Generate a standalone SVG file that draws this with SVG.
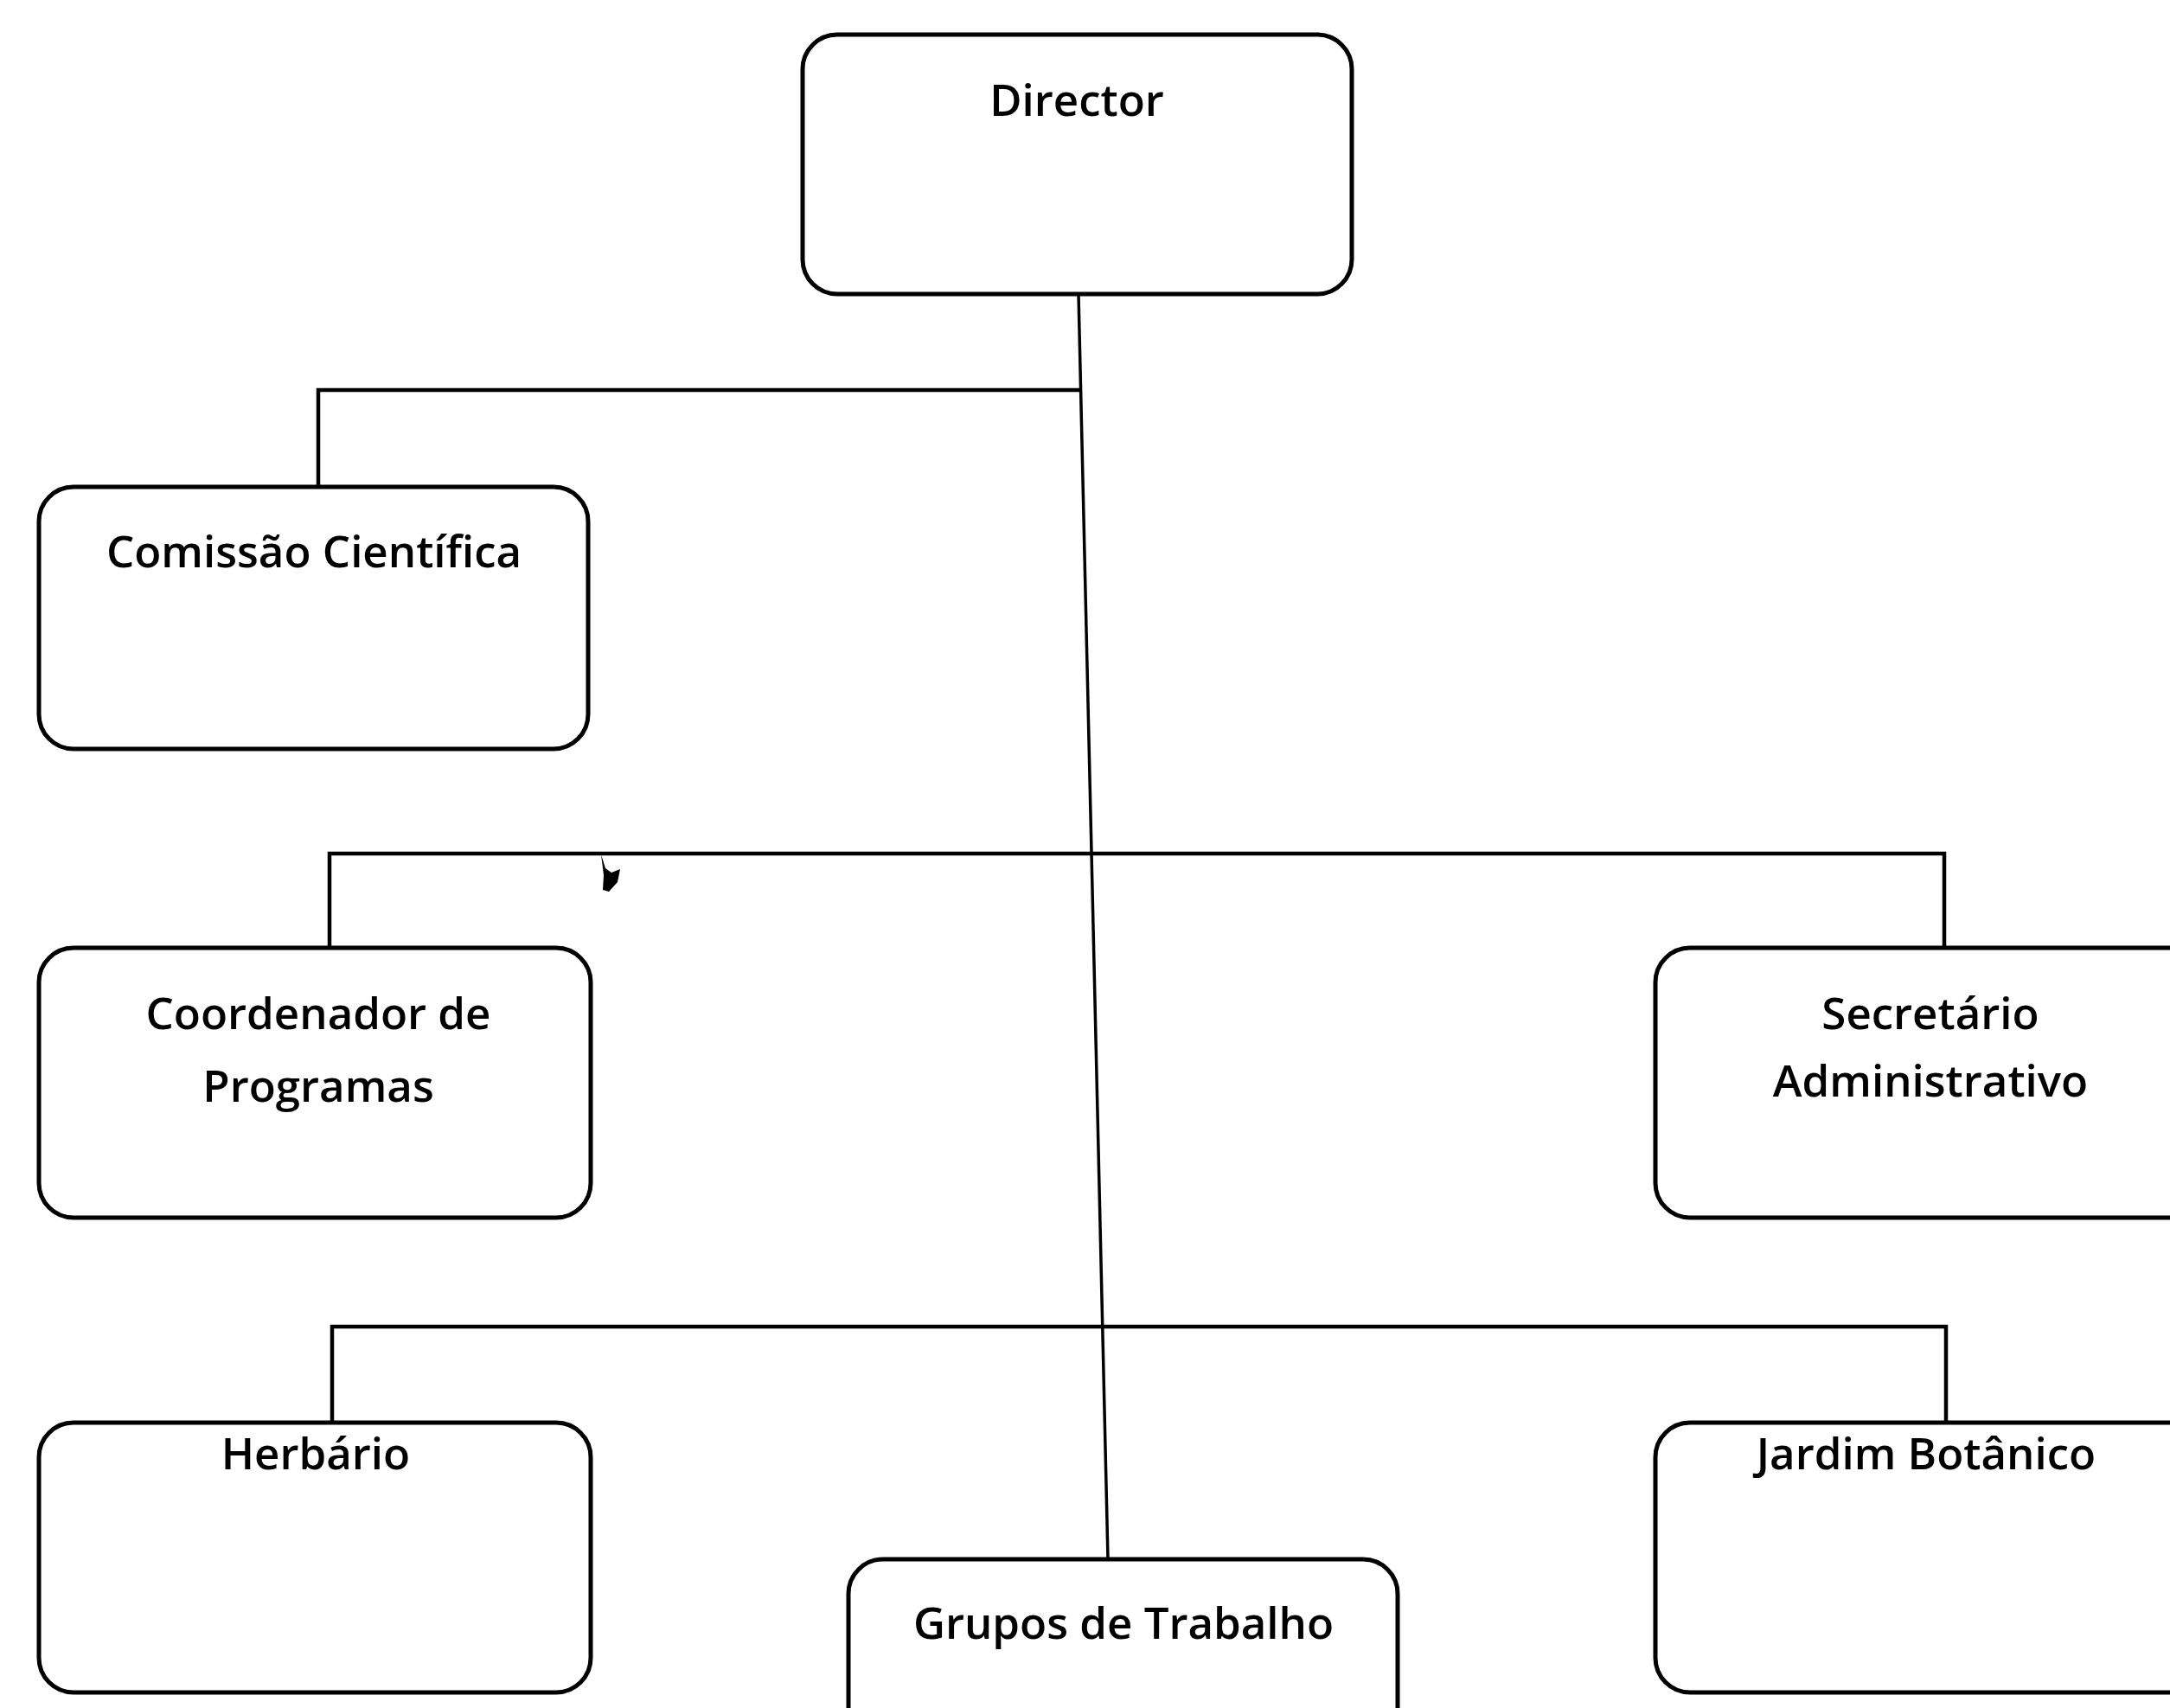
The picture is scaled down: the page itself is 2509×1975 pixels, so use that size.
<svg xmlns="http://www.w3.org/2000/svg" width="2509" height="1975" viewBox="0 0 2509 1975">
<style>
.box{fill:#fff;stroke:#000;stroke-width:5}
.lbl{font-family:"Open Sans","Liberation Sans",sans-serif;font-size:51px;font-weight:600;fill:#000;text-anchor:middle}
.con{fill:none;stroke:#000;stroke-width:4.5}
.trunk{fill:none;stroke:#000;stroke-width:3.5}
</style>
<rect width="2509" height="1975" fill="#fff"/>
<g id="connectors">
<path class="trunk" d="M1247,340 L1281,1803"/>
<path class="con" d="M1248,451 H368 V563"/>
<path class="con" d="M381,1096 V987 H2248 V1096"/>
<path class="con" d="M384,1645 V1534 H2250 V1645"/>
<path d="M695,988 L700,1004 L707,1009 L717,1005 L714,1020 L704,1031 L697,1029 L698,1012 Z" fill="#000"/>
</g>
<g id="director">
<rect class="box" x="928" y="40" width="635" height="300" rx="40"/>
<text class="lbl" x="1245" y="134">Director</text>
</g>
<g id="comissao">
<rect class="box" x="45" y="563" width="635" height="303" rx="40"/>
<text class="lbl" x="363" y="656">Comissão Científica</text>
</g>
<g id="coordenador">
<rect class="box" x="45" y="1096" width="638" height="312" rx="40"/>
<text class="lbl" x="368" y="1190">Coordenador de</text>
<text class="lbl" x="368" y="1274">Programas</text>
</g>
<g id="secretario">
<rect class="box" x="1914" y="1096" width="640" height="312" rx="40"/>
<text class="lbl" x="2232" y="1190">Secretário</text>
<text class="lbl" x="2232" y="1268">Administrativo</text>
</g>
<g id="herbario">
<rect class="box" x="45" y="1645" width="638" height="312" rx="40"/>
<text class="lbl" x="365" y="1699">Herbário</text>
</g>
<g id="grupos">
<rect class="box" x="981" y="1803" width="635" height="300" rx="40"/>
<text class="lbl" x="1299" y="1895">Grupos de Trabalho</text>
</g>
<g id="jardim">
<rect class="box" x="1914" y="1645" width="640" height="312" rx="40"/>
<text class="lbl" x="2227" y="1699">Jardim Botânico</text>
</g>
</svg>
